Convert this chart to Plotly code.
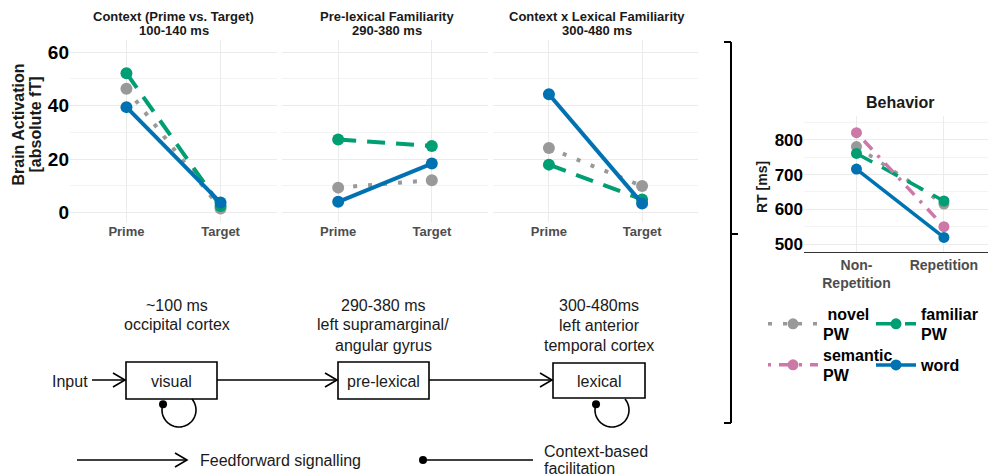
import numpy as np
import plotly.graph_objects as go

W, H = 988, 476

# ---------------- data ----------------
brain_x = ["Prime", "Target"]
behav_x = ["Non-<br>Repetition", "Repetition"]
series = ["\u00a0novel<br>PW", "familiar<br>PW", "semantic<br>PW", "word"]

# Context (Prime vs. Target) 100-140 ms
ctx_novel = [46.3, 1.5]
ctx_familiar = [52.1, 2.4]
ctx_word = [39.4, 3.7]
# Pre-lexical Familiarity 290-380 ms
pre_novel = [9.3, 12.1]
pre_familiar = [27.3, 24.9]
pre_word = [4.0, 18.3]
# Context x Lexical Familiarity 300-480 ms
lex_novel = [24.1, 9.9]
lex_familiar = [17.9, 4.9]
lex_word = [44.2, 3.4]
# Behavior RT [ms]
rt_novel = [781, 615]
rt_familiar = [761, 624]
rt_semantic = [821, 550]
rt_word = [716, 519]

panel_titles = [("Context (Prime vs. Target)", "100-140 ms"),
                ("Pre-lexical Familiarity", "290-380 ms"),
                ("Context x Lexical Familiarity", "300-480 ms")]
brain_ticks = [0, 20, 40, 60]
rt_ticks = [500, 600, 700, 800]

# ---------------- styles ----------------
COL = {"novel": "#999999", "familiar": "#009E73", "semantic": "#CC79A7", "word": "#0072B2"}
DASH = {"novel": "4px,11px", "familiar": "18px,11px", "semantic": "3px,8px,12px,8px", "word": "solid"}
FONT = "Liberation Sans, Arial, Helvetica, sans-serif"
GRID = "#EBEBEB"
MINOR = "#F3F3F3"


def fx(p):
    return p / W


def fy(p):
    return 1 - p / H


fig = go.Figure()

brain_sets = [
    (ctx_novel, ctx_familiar, ctx_word),
    (pre_novel, pre_familiar, pre_word),
    (lex_novel, lex_familiar, lex_word),
]
for i, (nov, fam, wrd) in enumerate(brain_sets):
    ax = "" if i == 0 else str(i + 1)
    for key, vals in (("novel", nov), ("familiar", fam), ("word", wrd)):
        fig.add_trace(go.Scatter(
            x=[0, 1], y=vals, mode="lines+markers",
            line=dict(color=COL[key], width=4, dash=DASH[key]),
            marker=dict(color=COL[key], size=12),
            xaxis="x" + ax, yaxis="y" + ax, showlegend=False, hoverinfo="skip"))

behav = [("novel", rt_novel, 0, "legend"), ("familiar", rt_familiar, 1, "legend2"),
         ("semantic", rt_semantic, 2, "legend3"), ("word", rt_word, 3, "legend4")]
for key, vals, si, lg in behav:
    fig.add_trace(go.Scatter(
        x=[0, 1], y=vals, mode="lines+markers", name=series[si],
        line=dict(color=COL[key], width=3.5, dash=DASH[key]),
        marker=dict(color=COL[key], size=11),
        xaxis="x4", yaxis="y4", legend=lg, hoverinfo="skip"))

# ---------------- axes ----------------
x_domains = [(70, 277), (282, 488), (493, 698)]
layout_axes = {}
for i, (a, b) in enumerate(x_domains):
    ax = "" if i == 0 else str(i + 1)
    layout_axes["xaxis" + ax] = dict(
        domain=[fx(a), fx(b)], range=[-0.6, 1.6], tickvals=[0, 1], ticktext=brain_x,
        showgrid=True, gridcolor=GRID, gridwidth=1, zeroline=False, showline=False,
        anchor="y" + ax, ticks="", automargin=False,
        tickfont=dict(family=FONT, size=13, color="#4D4D4D", weight="bold"))
    layout_axes["yaxis" + ax] = dict(
        domain=[fy(222), fy(40)], range=[-3.55, 64.5], tickvals=brain_ticks,
        showgrid=True, gridcolor=GRID, gridwidth=1, zeroline=False, showline=False,
        anchor="x" + ax, ticks="", showticklabels=(i == 0), automargin=False,
        minor=dict(tickvals=[10, 30, 50], showgrid=True, gridcolor=MINOR, gridwidth=1),
        tickfont=dict(family=FONT, size=19, color="black", weight="bold"))

layout_axes["xaxis4"] = dict(
    domain=[fx(804), 1.0], range=[-0.6, 1.504], tickvals=[0, 1], ticktext=behav_x,
    showgrid=True, gridcolor=GRID, gridwidth=1, zeroline=False,
    showline=True, linecolor="#333333", linewidth=1.2, anchor="y4", ticks="",
    automargin=False,
    tickfont=dict(family=FONT, size=14, color="#4D4D4D", weight="bold"))
layout_axes["yaxis4"] = dict(
    domain=[fy(251.7), fy(116)], range=[477.8, 869], tickvals=rt_ticks,
    showgrid=True, gridcolor=GRID, gridwidth=1, zeroline=False, showline=False,
    anchor="x4", ticks="", automargin=False,
    minor=dict(tickvals=[550, 650, 750, 850], showgrid=True, gridcolor=MINOR, gridwidth=1),
    tickfont=dict(family=FONT, size=17, color="black", weight="bold"))

# ---------------- annotations ----------------
ann = []


def text(x, y, t, size, bold=False, xanchor="center", angle=0, color="#1a1a1a"):
    f = dict(family=FONT, size=size, color=color)
    if bold:
        f["weight"] = "bold"
    ann.append(dict(x=fx(x), y=fy(y), xref="paper", yref="paper", text=t, showarrow=False,
                    xanchor=xanchor, yanchor="middle", textangle=angle, font=f))


centers = [173.5, 386.5, 596.5]
for c, (t1, t2) in zip(centers, panel_titles):
    text(c, 17, t1, 13, bold=True)
    text(c, 31, t2, 13, bold=True)
text(18.5, 125, "Brain Activation", 16, bold=True, angle=-90)
text(35.5, 125, "[absolute fT]", 16, bold=True, angle=-90)
text(900, 102, "Behavior", 16, bold=True)
text(762, 187, "RT [ms]", 14, bold=True, angle=-90)

diagram_lines = [
    (177, 305, "~100 ms"), (177, 324, "occipital cortex"),
    (383, 305, "290-380 ms"), (383, 324.5, "left supramarginal/"), (383, 345, "angular gyrus"),
    (599, 305, "300-480ms"), (599, 325, "left anterior"), (599, 345, "temporal cortex"),
    (171, 381, "visual"), (383.5, 381, "pre-lexical"), (599, 381, "lexical"),
    (70, 381, "Input"),
]
for x, y, t in diagram_lines:
    text(x, y, t, 16)
text(198, 460, "Feedforward signalling", 16, xanchor="left")
text(542, 451, "Context-based", 16, xanchor="left")
text(542, 468, "facilitation", 16, xanchor="left")

# ---------------- shapes (diagram) ----------------
shapes = []
LW = 1.6


def line(x0, y0, x1, y1, w=LW):
    shapes.append(dict(type="line", xref="paper", yref="paper",
                       x0=fx(x0), y0=fy(y0), x1=fx(x1), y1=fy(y1),
                       line=dict(color="black", width=w)))


def path(points, w=LW):
    d = "M " + " L ".join(f"{fx(px):.5f},{fy(py):.5f}" for px, py in points)
    shapes.append(dict(type="path", xref="paper", yref="paper", path=d,
                       line=dict(color="black", width=w)))


def arrow(x0, x1, y):
    line(x0, y, x1, y)
    path([(x1 - 12, y - 7), (x1, y), (x1 - 12, y + 7)])


def box(x0, y0, x1, y1):
    shapes.append(dict(type="rect", xref="paper", yref="paper",
                       x0=fx(x0), y0=fy(y0), x1=fx(x1), y1=fy(y1),
                       line=dict(color="black", width=LW), fillcolor="white"))


def dot(x, y, r=4):
    shapes.append(dict(type="circle", xref="paper", yref="paper",
                       x0=fx(x - r), y0=fy(y - r), x1=fx(x + r), y1=fy(y + r),
                       line=dict(color="black", width=0), fillcolor="black"))


def loop(cx, cy, r, a0, a1):
    ang = np.radians(np.linspace(a0, a1, 40))
    pts = [(cx + r * np.cos(a), cy - r * np.sin(a)) for a in ang]
    path(pts)
    dot(*pts[0])


box(126, 362, 217, 399)
box(338, 362, 429, 399)
box(553, 363, 645, 398)
arrow(92, 125, 380)
arrow(217, 337, 380)
arrow(429, 552, 380)
loop(179, 410, 17, 160, 400)
loop(612, 410, 17, 160, 400)

arrow(77, 187, 460)
line(423, 460, 533, 460)
dot(423, 460)

# bracket
line(731, 42, 731, 423, 2)
line(724, 42, 731, 42, 2)
line(724, 423, 731, 423, 2)
line(731, 234, 738, 234, 2)

legend_font = dict(family=FONT, size=16, color="black", weight="bold")


def leg(x, y, iw=50):
    return dict(orientation="h", x=fx(x), xanchor="left", y=fy(y), yanchor="middle",
                font=legend_font, bgcolor="rgba(0,0,0,0)", itemwidth=iw, valign="middle")


fig.update_layout(
    template="none",
    width=W, height=H, autosize=False,
    margin=dict(l=0, r=0, t=0, b=0, pad=0, autoexpand=False),
    font=dict(family=FONT),
    paper_bgcolor="white", plot_bgcolor="white",
    annotations=ann, shapes=shapes,
    legend=leg(763, 324),
    legend2=leg(871, 324, 40),
    legend3=leg(763, 365),
    legend4=leg(871, 365, 40),
    **layout_axes,
)

fig.write_html("out.html", config={"displayModeBar": False},
               post_script="document.body.style.margin='0';")
